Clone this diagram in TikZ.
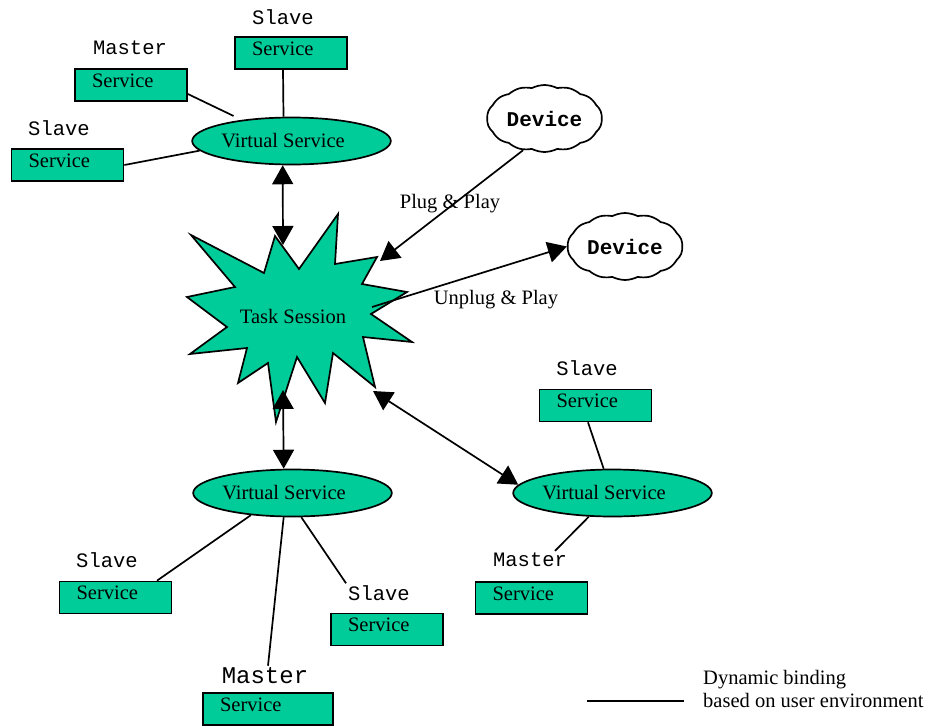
\documentclass[tikz,border=0pt]{standalone}
\usepackage{fontspec}
\setmainfont{Liberation Serif}
\setmonofont{Liberation Mono}
\usepackage{tikz}
\usetikzlibrary{arrows.meta,shapes.geometric,shapes.symbols}
\definecolor{session-green}{RGB}{0,204,153}
\tikzset{
    service-box/.style = {draw, fill=session-green, rectangle, line width=1.7pt, minimum height=32pt, text width=78pt, inner xsep=17pt, inner ysep=0pt, text depth=9pt, align=left},
    virtual-service/.style = {draw, fill=session-green, ellipse, line width=1.7pt, minimum width=178pt, minimum height=47pt, inner sep=0pt, execute at end node=\hspace*{17pt}},
    role-label/.style = {font=\ttfamily\fontsize{20.5}{24}\selectfont, inner sep=2pt},
    device-cloud/.style = {draw, fill=white, cloud, cloud puffs=14, cloud puff arc=55, cloud ignores aspect, line width=1.7pt, minimum width=107pt, minimum height=67pt, font=\ttfamily\bfseries\fontsize{21}{24}\selectfont},
    binding/.style = {line width=1.7pt},
    flow/.style = {line width=1.7pt, -{Triangle[length=19pt,width=21pt]}},
    both-flow/.style = {line width=1.7pt, {Triangle[length=19pt,width=21pt]}-{Triangle[length=19pt,width=21pt]}},
}

\begin{document}
\begin{tikzpicture}[x=1pt, y=-1pt, font=\fontsize{20.5}{24}\selectfont]
\useasboundingbox (0,0) rectangle (934,726);

% task session
\draw[fill=session-green, line width=1.7pt] (191,235) -- (264,273) -- (275,236) -- (299,269) -- (338,214) -- (335,264)
    -- (377,257) -- (362,284) -- (407,292) -- (371,314) -- (412,342) -- (363,337) -- (375,387) -- (333,353)
    -- (325,403) -- (297,357) -- (276,422) -- (268,363) -- (238,383) -- (247,348) -- (190,354) -- (227,327)
    -- (187,297) -- (235,287) -- cycle;
\node (task) at (293,316) {Task Session};
\coordinate (task-n) at (283,245);
\coordinate (task-ne) at (380,261);
\coordinate (task-e) at (372,307);
\coordinate (task-se) at (373,391);
\coordinate (task-s) at (283,390);

% top group
\node[role-label] (lbl-top) at (283,17) {Slave};
\node[service-box] (svc-top) at (291,53) {Service};
\node[role-label] (lbl-tl) at (130,48) {Master};
\node[service-box] (svc-tl) at (131,85) {Service};
\node[role-label] (lbl-l) at (59,128) {Slave};
\node[service-box] (svc-l) at (67.5,165) {Service};
\node[virtual-service] (vs-top) at (291.5,141) {Virtual Service};

% bottom group
\node[virtual-service] (vs-bottom) at (292.5,493) {Virtual Service};
\node[role-label] (lbl-bl) at (107,560) {Slave};
\node[service-box] (svc-bl) at (115.5,597.5) {Service};
\node[role-label] (lbl-br) at (379,593) {Slave};
\node[service-box] (svc-br) at (387,629.5) {Service};
\node[role-label, font=\ttfamily\fontsize{24}{28}\selectfont] (lbl-b) at (265,676) {Master};
\node[service-box, text width=96pt] (svc-b) at (268,709) {Service};

% right group
\node[role-label] (lbl-r) at (587,368) {Slave};
\node[service-box] (svc-r) at (595.5,405.5) {Service};
\node[virtual-service] (vs-right) at (612.5,493) {Virtual Service};
\node[role-label] (lbl-rm) at (530,560) {Master};
\node[service-box] (svc-rm) at (531.5,598) {Service};

% devices
\node[device-cloud] (dev-plug) at (544.5,118.5) {Device};
\node[device-cloud] (dev-unplug) at (625,246.5) {Device};
\node (plug) at (450,204) {Plug \& Play};
\node (unplug) at (496,300) {Unplug \& Play};

% dynamic bindings
\draw[binding] ([xshift=-8pt]svc-top.south) -- ([xshift=-8pt]vs-top.north);
\draw[binding, shorten >=9pt] ([yshift=-9pt]svc-tl.east) -- (vs-top.157);
\draw[binding] (svc-l.east) -- (vs-top.186);
\draw[binding] (vs-bottom.208) -- ([xshift=41.5pt]svc-bl.north);
\draw[binding] (vs-bottom.250) -- ([xshift=3pt]lbl-b.north);
\draw[binding] (vs-bottom.290) -- (lbl-br.north west);
\draw[binding] ([xshift=-7.5pt]svc-r.south) -- (vs-right.110);
\draw[binding] (vs-right.225) -- ([xshift=25pt]lbl-rm.north);

% session links
\draw[both-flow] (vs-top.250) -- (task-n);
\draw[flow] (dev-plug.236) -- (task-ne);
\draw[flow] (task-e) -- (dev-unplug.west);
\draw[both-flow] (task-se) -- (vs-right.175);
\draw[both-flow] (task-s) -- (vs-bottom.110);

% legend
\node[align=left, anchor=west, inner sep=0pt, font=\fontsize{20.5}{23.5}\selectfont] (legend) at (703,689) {Dynamic binding\\based on user environment};
\coordinate (leg-a) at (587,701);
\coordinate (leg-b) at (684,701);
\draw[binding] (leg-a) -- (leg-b);
\end{tikzpicture}
\end{document}
